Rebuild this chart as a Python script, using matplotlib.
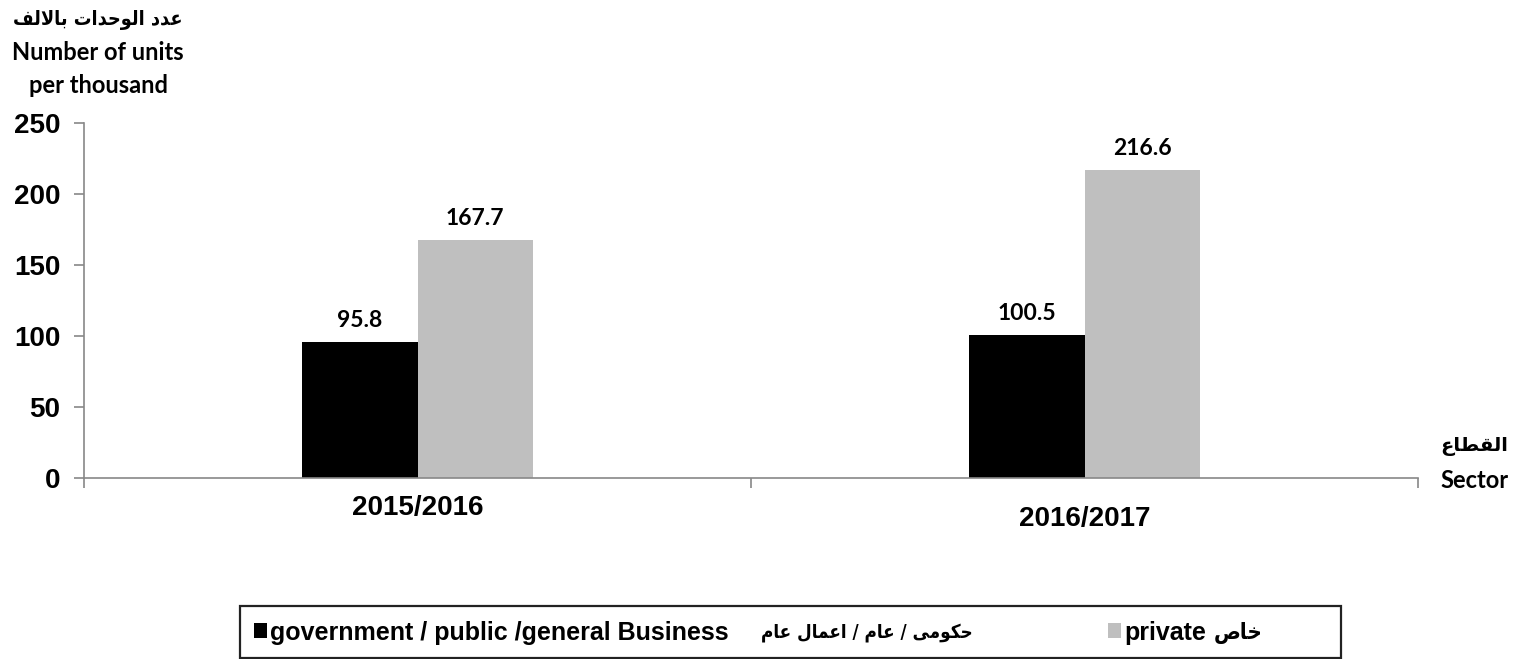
import numpy as np
import matplotlib.pyplot as plt
from matplotlib.patches import Rectangle

# data
years = ['2015/2016', '2016/2017']
gov_values = [95.8, 100.5]
private_values = [167.7, 216.6]
y_ticks = [0, 50, 100, 150, 200, 250]

gov_label_en = 'government / public /general Business'
gov_label_ar = 'حكومى / عام / اعمال عام'
private_label_en = 'private'
private_label_ar = 'خاص'
ylabel_ar = 'عدد الوحدات بالالف'
ylabel_en = ['Number of units', 'per thousand']
xlabel_ar = 'القطاع'
xlabel_en = 'Sector'

# matplotlib has no arabic shaping, so pick the joined glyph forms by hand
# (isolated, final, initial, medial)
FORMS = {
    'ا': (0xFE8D, 0xFE8E, None, None),
    'ب': (0xFE8F, 0xFE90, 0xFE91, 0xFE92),
    'ت': (0xFE95, 0xFE96, 0xFE97, 0xFE98),
    'ح': (0xFEA1, 0xFEA2, 0xFEA3, 0xFEA4),
    'خ': (0xFEA5, 0xFEA6, 0xFEA7, 0xFEA8),
    'د': (0xFEA9, 0xFEAA, None, None),
    'ص': (0xFEB9, 0xFEBA, 0xFEBB, 0xFEBC),
    'ط': (0xFEC1, 0xFEC2, 0xFEC3, 0xFEC4),
    'ع': (0xFEC9, 0xFECA, 0xFECB, 0xFECC),
    'ف': (0xFED1, 0xFED2, 0xFED3, 0xFED4),
    'ق': (0xFED5, 0xFED6, 0xFED7, 0xFED8),
    'ك': (0xFED9, 0xFEDA, 0xFEDB, 0xFEDC),
    'ل': (0xFEDD, 0xFEDE, 0xFEDF, 0xFEE0),
    'م': (0xFEE1, 0xFEE2, 0xFEE3, 0xFEE4),
    'و': (0xFEED, 0xFEEE, None, None),
    'ى': (0xFEEF, 0xFEF0, None, None),
    'LA': (0xFEFB, 0xFEFC, None, None),
}


def shape_ar(text):
    toks = []
    i = 0
    while i < len(text):
        if text[i] == 'ل' and i + 1 < len(text) and text[i + 1] == 'ا':
            toks.append('LA')
            i += 2
        else:
            toks.append(text[i])
            i += 1
    out = []
    for i, c in enumerate(toks):
        if c not in FORMS:
            out.append(c)
            continue
        prev = toks[i - 1] if i > 0 else None
        nxt = toks[i + 1] if i + 1 < len(toks) else None
        jp = prev in FORMS and FORMS[prev][2] is not None
        jn = FORMS[c][2] is not None and nxt in FORMS
        iso, fin, ini, med = FORMS[c]
        if jp and jn:
            g = med
        elif jp:
            g = fin
        elif jn:
            g = ini
        else:
            g = iso
        out.append(chr(g))
    return ''.join(reversed(out))


arial = ['Liberation Sans', 'DejaVu Sans']
calibri = ['Lato', 'DejaVu Sans']
ar_font = ['DejaVu Sans']

fig = plt.figure(figsize=(15.2, 6.59), dpi=100)
ax = fig.add_axes([0.0553, 0.2747, 0.8776, 0.5387])

x = np.arange(len(years))
w = 0.173
b1 = ax.bar(x - w / 2, gov_values, w, color='black', label=gov_label_en)
b2 = ax.bar(x + w / 2, private_values, w, color='#bfbfbf', label=private_label_en)

for bars, vals in [(b1, gov_values), (b2, private_values)]:
    for r, v in zip(bars, vals):
        ax.annotate(f'{v:.1f}', (r.get_x() + r.get_width() / 2, v),
                    xytext=(0, 8), textcoords='offset points',
                    ha='center', va='bottom', fontsize=16.5,
                    fontweight='bold', family=calibri)

ax.set_xlim(-0.5, 1.5)
ax.set_ylim(0, 250)
ax.set_yticks(y_ticks)
ax.set_yticklabels([str(t) for t in y_ticks], fontsize=20,
                   fontweight='bold', family=arial)
ax.set_xticks([-0.5, 0.5, 1.5])
ax.set_xticklabels([])
ax.tick_params(axis='both', direction='out', length=7, color='#888888', width=1.2)
ax.tick_params(axis='y', pad=10)
for s in ['top', 'right']:
    ax.spines[s].set_visible(False)
for s in ['left', 'bottom']:
    ax.spines[s].set_color('#888888')
    ax.spines[s].set_linewidth(1.2)

# category labels (second one sits a bit lower in the original)
cat_y = [-0.085, -0.116]
for xi, lab, yy in zip(x, years, cat_y):
    ax.text(xi, yy, lab, transform=ax.get_xaxis_transform(), ha='center',
            va='center', fontsize=20, fontweight='bold', family=arial)

# axis titles
fig.text(0.0645, 0.970, shape_ar(ylabel_ar), ha='center', va='center',
         fontsize=14.2, fontweight='bold', fontstretch='condensed', family=ar_font)
fig.text(0.0645, 0.921, ylabel_en[0], ha='center', va='center',
         fontsize=17, fontweight='bold', family=calibri)
fig.text(0.0645, 0.871, ylabel_en[1], ha='center', va='center',
         fontsize=17, fontweight='bold', family=calibri)
fig.text(0.970, 0.322, shape_ar(xlabel_ar), ha='center', va='center',
         fontsize=14, fontweight='bold', family=ar_font)
fig.text(0.970, 0.271, xlabel_en, ha='center', va='center',
         fontsize=17, fontweight='bold', family=calibri)

# legend box
fig.patches.append(Rectangle((0.158, 0.0015), 0.724, 0.0795, transform=fig.transFigure,
                             fill=False, edgecolor='#222222', linewidth=1.6))
leg = fig.legend(handles=[b1, b2], labels=[gov_label_en, private_label_en],
                 loc='center left', bbox_to_anchor=(0.1525, 0.040), ncol=2,
                 frameon=False, handlelength=0.52, handleheight=0.52,
                 handletextpad=0.1, columnspacing=15.2,
                 prop={'family': arial, 'weight': 'bold', 'size': 18})
# arabic halves of the legend entries
fig.text(867 / 1520, 0.040, shape_ar(gov_label_ar), ha='center', va='center',
         fontsize=13.5, fontweight='bold', fontstretch='condensed', family=ar_font)
fig.text(1238 / 1520, 0.040, shape_ar(private_label_ar), ha='center', va='center',
         fontsize=16, fontweight='bold', fontstretch='condensed', family=ar_font)

fig.savefig('out.png', dpi=100)
